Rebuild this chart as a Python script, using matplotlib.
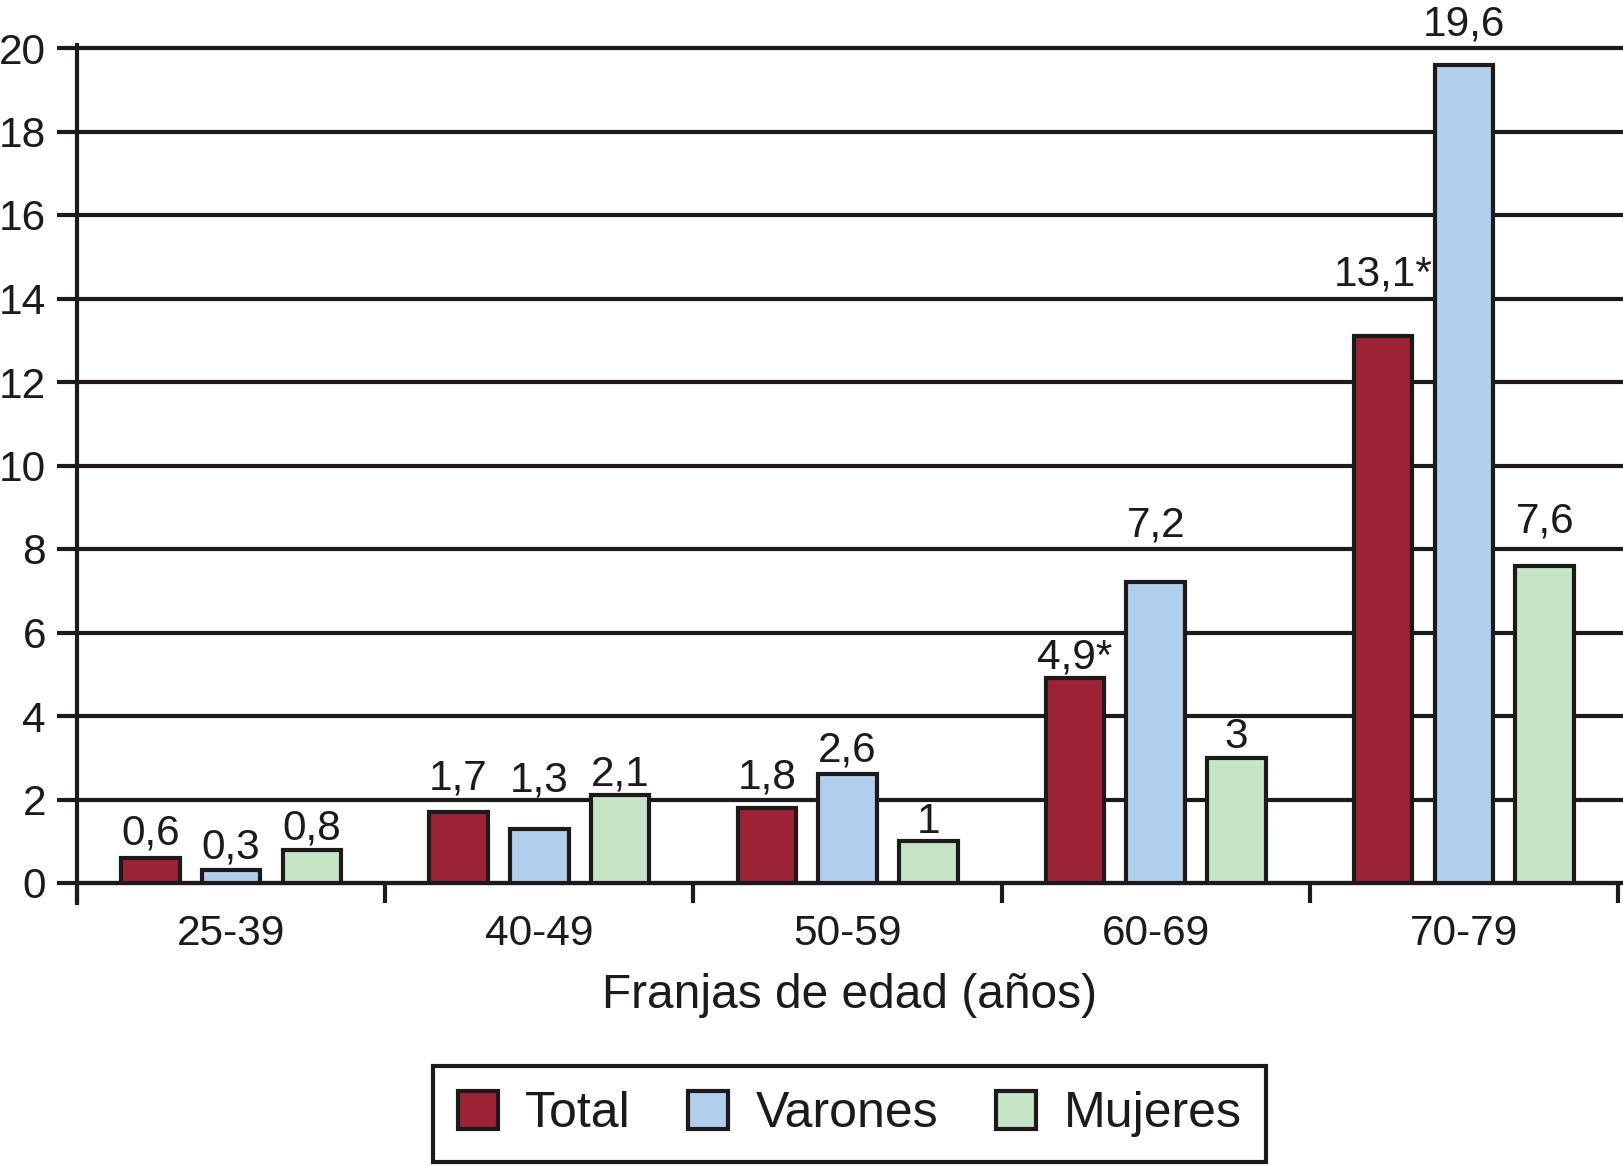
import matplotlib.pyplot as plt
import numpy as np

plt.rcParams['font.family'] = ['Liberation Sans', 'DejaVu Sans']

grupos = ["25-39", "40-49", "50-59", "60-69", "70-79"]
series = ["Total", "Varones", "Mujeres"]
total = [0.6, 1.7, 1.8, 4.9, 13.1]
varones = [0.3, 1.3, 2.6, 7.2, 19.6]
mujeres = [0.8, 2.1, 1.0, 3.0, 7.6]
etiquetas = [
    ["0,6", "1,7", "1,8", "4,9*", "13,1*"],
    ["0,3", "1,3", "2,6", "7,2", "19,6"],
    ["0,8", "2,1", "1", "3", "7,6"],
]
# gap (px) between bar top and label baseline, as placed in the original
huecos = [
    [13, 23, 19, 10, 51],
    [12, 37, 13, 46, 29],
    [10, 10, 8, 10, 33],
]
colores = ["#9c2236", "#afcfed", "#c6e4c6"]
negro = "#1e1a1b"
lw = 3.0

fig = plt.figure(figsize=(16.23, 11.66), dpi=100)
ax = fig.add_axes([77/1623, 1 - 883/1166, 1 - 77/1623, (883 - 48)/1166])

x = np.arange(len(grupos))
desp = [-0.262, 0, 0.262]
ancho = 0.19
for i, vals in enumerate([total, varones, mujeres]):
    barras = ax.bar(x + desp[i], vals, ancho, color=colores[i], edgecolor=negro,
                    linewidth=lw, label=series[i], zorder=3)
    for b, txt, h in zip(barras, etiquetas[i], huecos[i]):
        ax.annotate(txt, (b.get_x() + b.get_width()/2, b.get_height()),
                    xytext=(0, h*0.72), textcoords='offset points',
                    ha='center', va='baseline', fontsize=30.5, color=negro)

ax.set_ylim(0, 20)
ax.set_xlim(-0.5, 4.516)
ax.set_yticks(np.arange(0, 21, 2))
ax.yaxis.grid(True, color=negro, linewidth=lw, zorder=0)
ax.set_axisbelow(True)
for gl in ax.get_ygridlines():
    gl.set_clip_on(False)

ax.set_xticks(np.arange(-0.5, 5, 1))
ax.set_xticklabels([])
ax.set_xticks(x, minor=True)
ax.set_xticklabels(grupos, minor=True)
ax.tick_params(axis='x', which='major', direction='out', length=14.4, width=lw, color=negro)
ax.tick_params(axis='x', which='minor', length=0, pad=22, labelsize=30.5, labelcolor=negro)
ax.tick_params(axis='y', direction='out', length=14.4, width=lw, color=negro,
               pad=8, labelsize=30.5, labelcolor=negro)

for s in ['top', 'right']:
    ax.spines[s].set_visible(False)
ax.spines['bottom'].set_linewidth(lw)
ax.spines['bottom'].set_color(negro)
ax.spines['left'].set_linewidth(lw)
ax.spines['left'].set_color(negro)
ax.spines['left'].set_bounds(-0.48, 20.07)

ax.set_xlabel("Franjas de edad (años)", fontsize=34.5, color=negro, labelpad=14)

leg = fig.legend(loc='center', bbox_to_anchor=(0.5234, 0.0446), ncol=3,
                 prop={'size': 36},
                 handlelength=0.8, handleheight=0.8, handletextpad=0.55,
                 columnspacing=1.15, borderpad=0.5, fancybox=False, frameon=True,
                 framealpha=1)
leg.get_frame().set_edgecolor(negro)
leg.get_frame().set_linewidth(lw)
for t in leg.get_texts():
    t.set_color(negro)
for p in leg.get_patches():
    p.set_linewidth(lw)

fig.savefig("out.png", dpi=100)
